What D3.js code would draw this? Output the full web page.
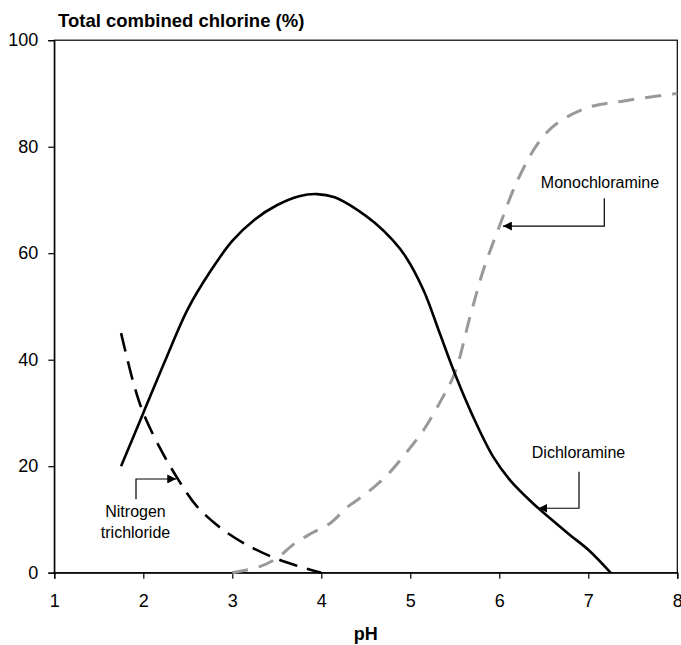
<!DOCTYPE html>
<html><head><meta charset="utf-8">
<script src="https://cdn.jsdelivr.net/npm/d3@7"></script>
<style>body{margin:0;background:#fff}svg{display:block}text{font-family:"Liberation Sans",Arial,sans-serif}</style>
</head><body><svg id="c" width="681" height="645"></svg>
<script>
const xTicks = [1,2,3,4,5,6,7,8];
const yTicks = [0,20,40,60,80,100];
const dichloramine = [[1.75,20],[2.0,30],[2.25,40],[2.5,49.5],[2.75,56.5],[3.0,62.3],[3.25,66.3],[3.5,69],[3.75,70.7],[3.95,71.1],[4.15,70.5],[4.4,68.2],[4.6,65.7],[4.8,62.5],[4.95,59.3],[5.15,53],[5.33,45],[5.5,37.4],[5.7,29.5],[5.93,21.8],[6.12,17.4],[6.38,13],[6.6,9.8],[6.8,7],[7.0,4.3],[7.25,0]];
const nitrogenTrichloride = [[1.75,45],[1.9,35],[2.0,30],[2.2,23],[2.4,17.3],[2.6,12.5],[2.9,8],[3.2,4.9],[3.5,2.6],[3.75,1.2],[4.0,0]];
const monochloramine = [[3.0,0],[3.3,1.1],[3.5,2.7],[3.7,5.5],[3.9,7.5],[4.1,9.3],[4.3,12.4],[4.5,14.8],[4.75,18.5],[5.0,23.5],[5.15,26.8],[5.35,32.5],[5.5,37.5],[5.67,48],[5.82,56.8],[6.0,65],[6.2,73.5],[6.45,81],[6.65,84.4],[7.0,87.4],[7.4,88.6],[8.0,90]];
const annotations = [
  {lines:["Monochloramine"], at:[6.04,65.1]},
  {lines:["Dichloramine"], at:[6.44,12.1]},
  {lines:["Nitrogen","trichloride"], at:[2.37,17.6]}
];

const svg = d3.select("#c");
const x = d3.scaleLinear().domain([1,8]).range([54.3,677.3]);
const y = d3.scaleLinear().domain([0,100]).range([572.7,40.2]);

svg.append("defs").append("marker").attr("id","ah").attr("viewBox","0 0 10 10")
  .attr("refX",10).attr("refY",5).attr("markerWidth",9).attr("markerHeight",9)
  .attr("markerUnits","userSpaceOnUse").attr("orient","auto")
  .append("path").attr("d","M0,0L10,5L0,10Z").attr("fill","#000");

svg.append("rect").attr("x",x(1)).attr("y",y(100)).attr("width",x(8)-x(1)).attr("height",y(0)-y(100))
  .attr("fill","none").attr("stroke","#000").attr("stroke-width",1.2);

const xa = svg.append("g").attr("transform",`translate(0,${y(0)})`)
  .call(d3.axisBottom(x).tickValues(xTicks).tickSize(6).tickPadding(16).tickFormat(d3.format("d")));
const ya = svg.append("g").attr("transform",`translate(${x(1)},0)`)
  .call(d3.axisLeft(y).tickValues(yTicks).tickSize(6).tickPadding(10).tickFormat(d3.format("d")));
[xa,ya].forEach(g=>{
  g.selectAll("path").attr("stroke","#000").attr("stroke-width",1.2);
  g.selectAll("line").attr("stroke","#000").attr("stroke-width",1.2);
  g.selectAll("text").attr("font-size",18).attr("fill","#000").style("font-family","'Liberation Sans',Arial,sans-serif");
});

const line = d3.line().x(d=>x(d[0])).y(d=>y(d[1])).curve(d3.curveCatmullRom.alpha(0.5));
svg.append("path").datum(monochloramine).attr("d",line).attr("fill","none")
  .attr("stroke","#999").attr("stroke-width",3).attr("stroke-dasharray","16,11");
svg.append("path").datum(nitrogenTrichloride).attr("d",line).attr("fill","none")
  .attr("stroke","#000").attr("stroke-width",2.6).attr("stroke-dasharray","19,10");
svg.append("path").datum(dichloramine).attr("d",line).attr("fill","none")
  .attr("stroke","#000").attr("stroke-width",2.6);

svg.append("text").attr("x",58).attr("y",27).attr("font-size",18.5).attr("font-weight","bold")
  .text("Total combined chlorine (%)");
svg.append("text").attr("x",(x(1)+x(8))/2).attr("y",640).attr("text-anchor","middle")
  .attr("font-size",18).attr("font-weight","bold").text("pH");

function anno(a, tx, ty, corner){
  const g = svg.append("g");
  a.lines.forEach((t,i)=>g.append("text").attr("x",tx).attr("y",ty+i*21.6)
    .attr("text-anchor","middle").attr("font-size",16).text(t));
  g.append("path").attr("d",`M${corner[0]},${corner[1]}V${y(a.at[1])}H${x(a.at[0])}`)
    .attr("fill","none").attr("stroke","#000").attr("stroke-width",1.2).attr("marker-end","url(#ah)");
}
anno(annotations[0], 600, 188.3, [604.3,198.3]);
anno(annotations[1], 578.5, 458.3, [579,471.7]);
anno(annotations[2], 135.5, 516.7, [136,499.3]);
</script></body></html>
